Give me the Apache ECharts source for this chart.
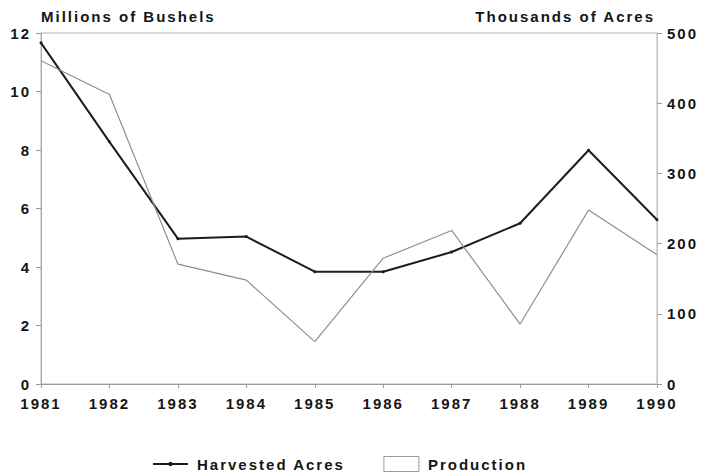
<!DOCTYPE html>
<html>
<head>
<meta charset="utf-8">
<script src="https://cdn.jsdelivr.net/npm/echarts@6/dist/echarts.min.js"></script>
<style>
html,body{margin:0;padding:0;background:#fff;}
#c{width:711px;height:476px;}
#c text{letter-spacing:2px;}
</style>
</head>
<body>
<div id="c"></div>
<script>
const years = ['1981','1982','1983','1984','1985','1986','1987','1988','1989','1990'];
const production = [11.05, 9.9, 4.1, 3.55, 1.45, 4.3, 5.25, 2.05, 5.95, 4.42];
const harvestedAcres = [486, 345, 207, 210, 160, 160, 188, 229, 333, 234];
const leftTicks = [0, 2, 4, 6, 8, 10, 12];
const rightTicks = [0, 100, 200, 300, 400, 500];

const FONT = 'Liberation Sans';
const txt = {fontFamily: FONT, fontSize: 15, fontWeight: 'bold', color: '#151515'};

const chart = echarts.init(document.getElementById('c'), null, {renderer: 'svg'});
chart.setOption({
  animation: false,
  backgroundColor: '#fff',
  grid: {left: 41, right: 54, top: 33, bottom: 92, show: true, borderColor: '#b4b4b4', borderWidth: 1},
  legend: {
    top: 451, left: 148, itemGap: 68, itemWidth: 35, itemHeight: 15,
    textStyle: Object.assign({}, txt, {padding: [0,0,0,4]}),
    data: [
      {name: 'Harvested Acres', icon: 'path://M0,5 L35,5 L35,7 L0,7 Z M16,4 L19,4 L19,8 L16,8 Z',
       itemStyle: {color: '#1c1c1c', borderWidth: 0}},
      {name: 'Production', icon: 'rect', itemStyle: {color: '#fff', borderColor: '#9a9a9a', borderWidth: 1}}
    ]
  },
  xAxis: {
    type: 'category', data: years, boundaryGap: false,
    axisLine: {show: true, lineStyle: {color: '#9a9a9a', width: 1}},
    axisTick: {show: true, length: 4, alignWithLabel: true, lineStyle: {color: '#9a9a9a'}},
    axisLabel: Object.assign({}, txt, {margin: 12}),
    splitLine: {show: false}
  },
  yAxis: [
    {
      type: 'value', min: leftTicks[0], max: leftTicks[leftTicks.length-1], interval: 2,
      name: 'Millions of Bushels', nameLocation: 'end', nameGap: 9,
      nameTextStyle: Object.assign({}, txt, {align: 'left'}),
      axisLine: {show: true, lineStyle: {color: '#a8a8a8'}},
      axisTick: {show: true, length: 5, lineStyle: {color: '#9a9a9a'}},
      axisLabel: Object.assign({}, txt, {margin: 10}),
      splitLine: {show: false}
    },
    {
      type: 'value', min: rightTicks[0], max: rightTicks[rightTicks.length-1], interval: 100,
      name: 'Thousands of Acres', nameLocation: 'end', nameGap: 9,
      nameTextStyle: Object.assign({}, txt, {align: 'right', padding: [0, 2, 0, 0]}),
      axisLine: {show: true, lineStyle: {color: '#c8c8c8'}},
      axisTick: {show: true, length: 5, lineStyle: {color: '#9a9a9a'}},
      axisLabel: Object.assign({}, txt, {margin: 10}),
      splitLine: {show: false}
    }
  ],
  series: [
    {
      name: 'Harvested Acres', type: 'line', yAxisIndex: 1, data: harvestedAcres,
      symbol: 'circle', symbolSize: 3, showSymbol: true,
      lineStyle: {color: '#1c1c1c', width: 2},
      itemStyle: {color: '#1c1c1c'}
    },
    {
      name: 'Production', type: 'line', yAxisIndex: 0, data: production,
      symbol: 'none',
      lineStyle: {color: '#8e8e8e', width: 1.2},
      itemStyle: {color: '#8e8e8e'}
    }
  ]
});
</script>
</body>
</html>
